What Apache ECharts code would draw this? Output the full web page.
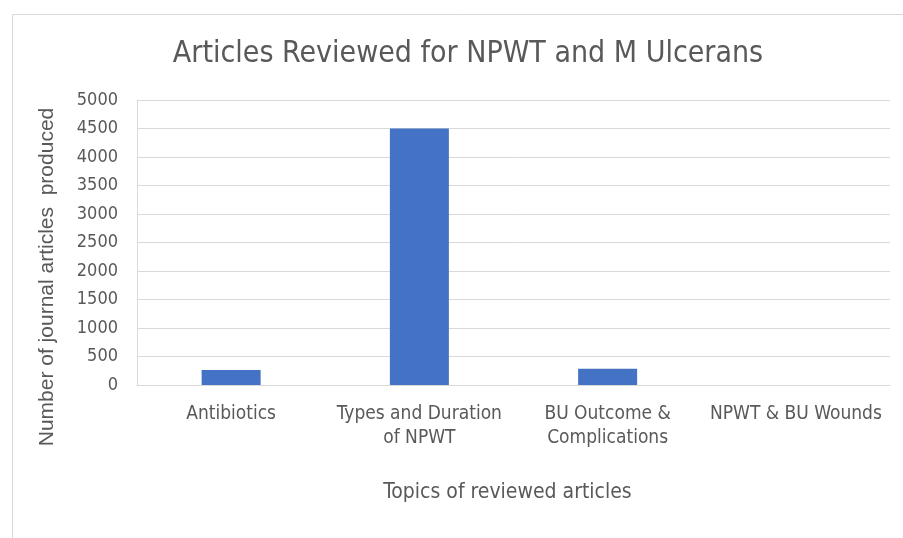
<!DOCTYPE html>
<html><head><meta charset="utf-8">
<script src="https://cdn.jsdelivr.net/npm/echarts@6/dist/echarts.min.js"></script>
<style>html,body{margin:0;padding:0;background:#fff}#c{width:903px;height:538px}</style>
</head><body><div id="c"></div>
<script>
const categories = ['Antibiotics', 'Types and Duration\nof NPWT', 'BU Outcome &\nComplications', 'NPWT & BU Wounds'];
const articleCounts = [265, 4500, 285, 0];
const yTicks = [0, 500, 1000, 1500, 2000, 2500, 3000, 3500, 4000, 4500, 5000];

const narrow = '"Liberation Sans Narrow", "DejaVu Sans Condensed", sans-serif';
const chart = echarts.init(document.getElementById('c'));
chart.setOption({
  animation: false,
  backgroundColor: '#fff',
  graphic: [
    { type: 'line', silent: true, shape: { x1: 12.5, y1: 14.5, x2: 903, y2: 14.5 }, style: { stroke: '#d9d9d9', lineWidth: 1 } },
    { type: 'line', silent: true, shape: { x1: 12.5, y1: 14.5, x2: 12.5, y2: 538 }, style: { stroke: '#d9d9d9', lineWidth: 1 } },
    { type: 'text', silent: true, x: 47, y: 277, rotation: Math.PI / 2,
      style: { text: 'Number of journal articles  produced', fontFamily: '"Liberation Sans", sans-serif', fontSize: 21, fill: '#595959', textAlign: 'center', textVerticalAlign: 'middle' } }
  ],
  title: {
    text: 'Articles Reviewed for NPWT and M Ulcerans',
    left: 463, top: 34, textAlign: 'center',
    textStyle: { fontFamily: narrow, fontSize: 30, fontWeight: 'normal', color: '#595959' }
  },
  grid: { left: 137, right: 13, top: 100, bottom: 538 - 385 },
  xAxis: {
    type: 'category', data: categories,
    name: 'Topics of reviewed articles', nameLocation: 'middle', nameGap: 97,
    nameTextStyle: { fontFamily: narrow, fontSize: 21, color: '#595959', padding: [0, 12, 0, 0] },
    axisLine: { lineStyle: { color: '#d9d9d9', width: 1 } },
    axisTick: { show: false },
    axisLabel: { interval: 0, margin: 17, fontFamily: narrow, fontSize: 19, color: '#595959', lineHeight: 24 }
  },
  yAxis: {
    type: 'value', min: yTicks[0], max: yTicks[yTicks.length - 1], interval: 500,
    axisLine: { show: true, lineStyle: { color: '#d9d9d9', width: 1 } },
    axisTick: { show: false },
    splitLine: { lineStyle: { color: '#d9d9d9', width: 1 } },
    axisLabel: { margin: 19, fontFamily: narrow, fontSize: 18, color: '#595959', formatter: v => String(v) }
  },
  series: [{
    type: 'bar', data: articleCounts, barWidth: 59,
    itemStyle: { color: '#4472c4' }
  }]
});
</script></body></html>
